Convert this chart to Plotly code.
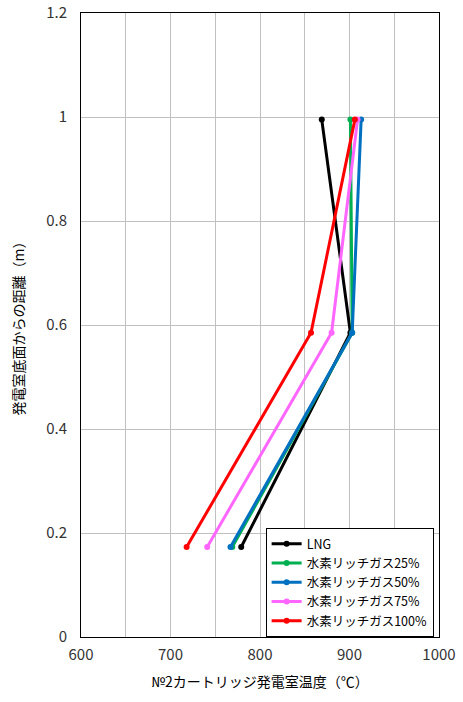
import plotly.graph_objects as go

heights = [0.173, 0.585, 0.995]
series_names = ["LNG", "水素リッチガス25%", "水素リッチガス50%", "水素リッチガス75%", "水素リッチガス100%"]
lng = [779, 901, 869]
h25 = [769, 903, 901]
h50 = [767, 903, 913]
h75 = [741, 880, 909]
h100 = [718, 857, 906]
colors = ["#000000", "#00b050", "#0070c0", "#ff66ff", "#ff0000"]

fig = go.Figure()
for name, xs, c in zip(series_names, [lng, h25, h50, h75, h100], colors):
    fig.add_trace(go.Scatter(
        x=xs, y=heights, name=name, mode="lines+markers",
        line=dict(color=c, width=3), marker=dict(color=c, size=6),
    ))

font_family = "Noto Sans CJK JP"
fig.update_layout(
    width=463, height=702,
    margin=dict(l=81, r=24, t=13, b=65),
    paper_bgcolor="white", plot_bgcolor="white",
    font=dict(family=font_family, color="#000000", size=14),
    showlegend=True,
    legend=dict(
        x=0.985, y=0.0, xanchor="right", yanchor="bottom",
        bordercolor="#000000", borderwidth=1, bgcolor="white",
        font=dict(size=12.5, family=font_family), tracegroupgap=0,
        itemwidth=30,
    ),
    xaxis=dict(
        range=[600, 1000], dtick=100, tick0=600,
        showgrid=True, gridcolor="#c0c0c0", gridwidth=1,
        minor=dict(dtick=50, showgrid=True, gridcolor="#c0c0c0", gridwidth=1),
        showline=True, linecolor="#000000", linewidth=1, mirror=True,
        ticks="", zeroline=False, automargin=False,
        tickfont=dict(size=15, color="#333333"),
        ticklabelstandoff=4,
        title=dict(text="№2カートリッジ発電室温度（℃）", font=dict(size=14), standoff=14),
    ),
    yaxis=dict(
        range=[0, 1.2], dtick=0.2, tick0=0,
        showgrid=True, gridcolor="#c0c0c0", gridwidth=1,
        showline=True, linecolor="#000000", linewidth=1, mirror=True,
        ticks="", zeroline=False, automargin=False,
        tickfont=dict(size=15, color="#333333"),
        ticklabelstandoff=10,
        tickformat="~g",
        title=dict(text="発電室底面からの距離（m）", font=dict(size=14), standoff=18),
    ),
)

fig.write_html("out.html", config={"displayModeBar": False},
               post_script="document.body.style.margin='0px';")
